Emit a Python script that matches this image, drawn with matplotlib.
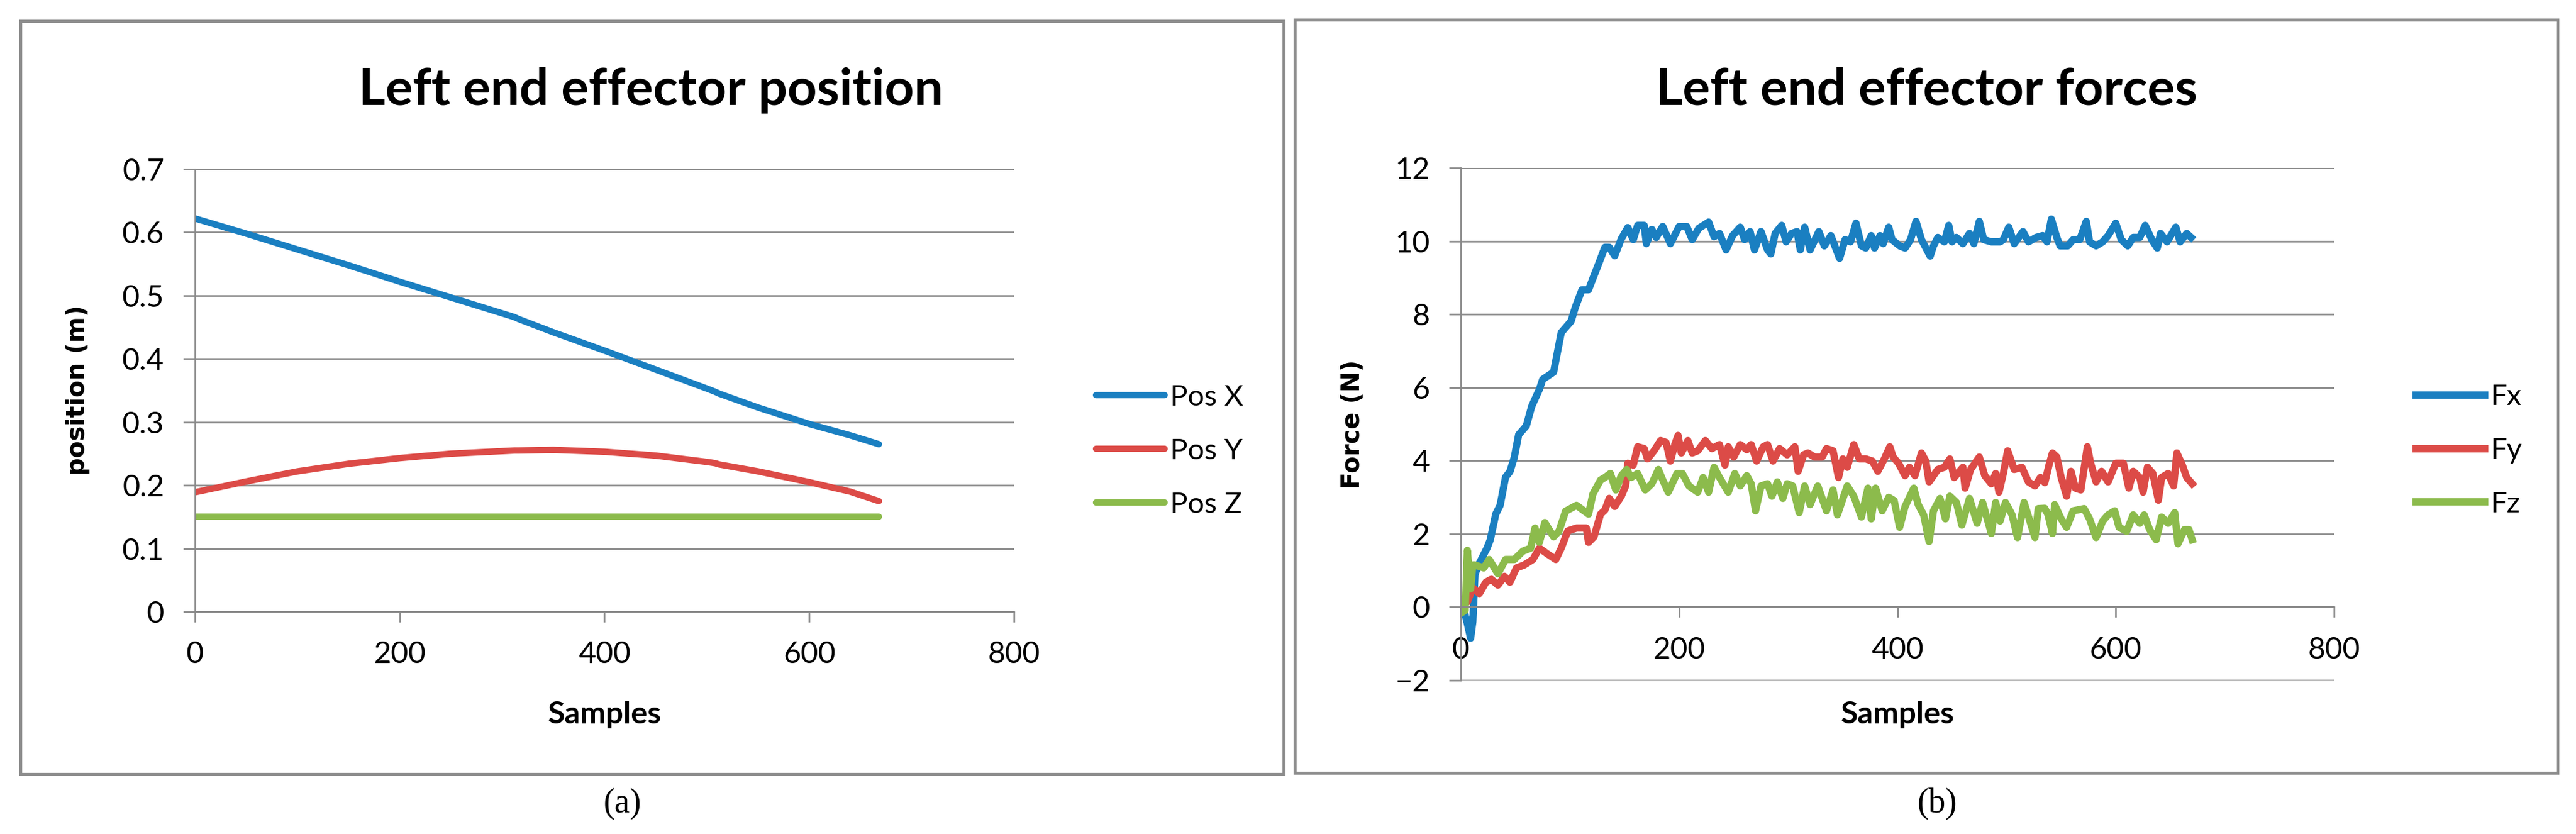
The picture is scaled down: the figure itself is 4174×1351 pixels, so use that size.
import numpy as np
import matplotlib.pyplot as plt
from matplotlib.patches import Rectangle

plt.rcParams['font.family'] = ['Lato', 'DejaVu Sans']

# ---- data ----
pos_samples = [0, 50, 100, 150, 200, 250, 300, 312, 316, 350, 400, 450, 500, 508, 512, 550, 600, 640, 668]
pos_x = [0.622, 0.598, 0.573, 0.548, 0.522, 0.497, 0.472, 0.466, 0.463, 0.442, 0.413, 0.383,
         0.353, 0.348, 0.345, 0.323, 0.297, 0.279, 0.265]
pos_y = [0.189, 0.206, 0.222, 0.234, 0.243, 0.250, 0.254, 0.255, 0.255, 0.256, 0.253, 0.247,
         0.237, 0.235, 0.233, 0.222, 0.205, 0.190, 0.175]
pos_z = [0.15] * len(pos_samples)

fx_samples = [0, 3, 6, 9, 11, 13, 17, 24, 27, 32, 36, 41, 45, 49, 53, 60, 65, 72, 75, 85, 89, 92,
              101, 105, 111, 117, 121, 126, 132, 136, 141, 147, 153, 158, 162, 168, 170, 175, 179,
              185, 192, 200, 207, 212, 218, 227, 232, 237, 243, 249, 256, 260, 265, 269, 275, 281,
              284, 288, 294, 298, 303, 308, 311, 315, 320, 328, 333, 339, 347, 352, 357, 362, 367,
              371, 376, 379, 384, 387, 392, 395, 402, 407, 412, 417, 422, 430, 433, 437, 443, 447,
              450, 454, 460, 466, 470, 475, 479, 486, 494, 497, 502, 507, 515, 520, 527, 533, 537,
              541, 546, 549, 556, 561, 567, 573, 576, 582, 588, 593, 600, 605, 611, 616, 622, 627,
              633, 638, 641, 647, 655, 659, 665, 669]
fx = [0.05, -0.1, -0.45, -0.85, -0.4, 0.9, 1.2, 1.61, 1.84, 2.54, 2.78, 3.55, 3.7, 4.09, 4.71, 4.95,
      5.49, 5.95, 6.22, 6.42, 7.04, 7.5, 7.81, 8.2, 8.67, 8.67, 8.98, 9.36, 9.83, 9.83, 9.6, 10.06,
      10.37, 10.04, 10.43, 10.43, 9.93, 10.32, 10.1, 10.4, 9.93, 10.4, 10.4, 10.04, 10.35, 10.52,
      10.12, 10.21, 9.76, 10.15, 10.38, 10.04, 10.26, 9.76, 10.26, 9.76, 9.65, 10.21, 10.43, 9.98,
      10.21, 10.26, 9.76, 10.38, 9.76, 10.26, 9.87, 10.15, 9.53, 10.04, 9.98, 10.49, 9.87, 9.81,
      10.15, 9.81, 10.15, 9.93, 10.38, 10.04, 9.87, 9.81, 10.04, 10.54, 10.04, 9.59, 9.87, 10.1,
      9.98, 10.43, 9.98, 10.1, 9.93, 10.21, 9.93, 10.54, 10.04, 9.98, 9.98, 10.04, 10.38, 9.93,
      10.26, 9.98, 10.1, 10.15, 9.98, 10.6, 10.1, 9.87, 9.87, 10.04, 10.04, 10.54, 9.98, 9.87,
      9.98, 10.15, 10.49, 10.04, 9.87, 10.1, 10.1, 10.43, 10.04, 9.81, 10.21, 9.98, 10.38, 9.98,
      10.21, 10.1]

fy_samples = [0, 6, 11, 17, 23, 28, 34, 40, 45, 51, 58, 66, 72, 79, 87, 92, 98, 106, 115, 117, 122,
              128, 132, 136, 141, 147, 151, 153, 158, 162, 168, 171, 177, 183, 188, 192, 196, 199,
              202, 208, 212, 217, 224, 230, 237, 242, 245, 250, 256, 262, 266, 271, 277, 281, 286,
              292, 299, 306, 309, 314, 318, 324, 331, 335, 341, 346, 350, 354, 360, 365, 371, 377,
              382, 388, 393, 396, 401, 407, 411, 416, 422, 426, 429, 437, 443, 448, 452, 460, 462,
              467, 475, 480, 486, 490, 493, 497, 501, 507, 514, 520, 526, 531, 535, 539, 542, 546,
              550, 555, 559, 563, 568, 574, 577, 582, 587, 593, 600, 607, 612, 616, 622, 625, 629,
              634, 639, 642, 648, 653, 656, 661, 665, 670]
fy = [0.22, 0.14, 0.53, 0.37, 0.68, 0.76, 0.6, 0.84, 0.68, 1.07, 1.15, 1.3, 1.61, 1.46, 1.3, 1.61,
      2.08, 2.16, 2.16, 1.77, 1.92, 2.54, 2.65, 2.97, 2.75, 3.03, 3.31, 3.93, 3.88, 4.38, 4.33, 4.05,
      4.27, 4.55, 4.5, 3.99, 4.44, 4.69, 4.21, 4.55, 4.21, 4.27, 4.55, 4.33, 4.44, 3.88, 4.38, 4.1,
      4.44, 4.3, 4.44, 3.99, 4.38, 4.44, 3.99, 4.33, 4.16, 4.38, 3.71, 4.16, 4.21, 4.1, 4.1, 4.33,
      4.27, 3.54, 4.05, 3.82, 4.44, 4.05, 4.05, 3.99, 3.71, 4.05, 4.38, 4.1, 3.93, 3.59, 3.82, 3.59,
      4.21, 3.99, 3.42, 3.76, 3.82, 4.05, 3.54, 3.82, 3.25, 3.76, 4.1, 3.59, 3.37, 3.65, 3.14, 3.65,
      4.27, 3.76, 3.82, 3.42, 3.31, 3.54, 3.4, 3.9, 4.21, 4.1, 3.54, 3.03, 3.71, 3.25, 3.2, 4.38,
      3.93, 3.42, 3.71, 3.42, 3.93, 3.93, 3.25, 3.71, 3.54, 3.14, 3.82, 3.65, 2.92, 3.54, 3.65, 3.31,
      4.21, 3.88, 3.54, 3.37]

fz_samples = [0, 4, 6, 9, 11, 13, 21, 26, 34, 41, 49, 57, 64, 68, 72, 77, 85, 90, 96, 106, 117, 121,
              128, 132, 137, 142, 147, 152, 156, 162, 169, 175, 181, 184, 190, 198, 203, 209, 217,
              222, 227, 232, 237, 245, 251, 256, 262, 266, 270, 275, 281, 285, 290, 295, 299, 304,
              310, 315, 320, 327, 335, 341, 345, 354, 360, 367, 373, 376, 380, 386, 392, 397, 402,
              407, 415, 419, 424, 429, 433, 439, 444, 448, 454, 459, 466, 473, 478, 486, 490, 494,
              499, 505, 510, 516, 526, 529, 535, 538, 542, 544, 550, 555, 561, 571, 576, 582, 588,
              593, 599, 603, 610, 616, 622, 626, 631, 637, 642, 648, 654, 657, 663, 667, 670]
fz = [-0.17, -0.09, 1.55, 0.5, 1.15, 1.15, 1.07, 1.3, 0.91, 1.3, 1.3, 1.53, 1.61, 2.16, 1.77, 2.31,
      1.92, 2.08, 2.62, 2.78, 2.54, 3.09, 3.47, 3.54, 3.65, 3.2, 3.59, 3.76, 3.54, 3.65, 3.2, 3.37,
      3.76, 3.54, 3.14, 3.65, 3.65, 3.31, 3.14, 3.54, 3.14, 3.82, 3.54, 3.14, 3.65, 3.31, 3.59, 3.37,
      2.63, 3.31, 3.37, 3.03, 3.42, 2.97, 3.37, 3.31, 2.58, 3.31, 2.8, 3.31, 2.63, 3.2, 2.52, 3.31,
      3.03, 2.46, 3.25, 2.41, 3.25, 2.63, 3.0, 2.91, 2.18, 2.75, 3.25, 2.8, 2.52, 1.79, 2.63, 2.97,
      2.41, 3.03, 2.86, 2.24, 2.97, 2.29, 2.86, 2.01, 2.86, 2.35, 2.86, 2.52, 1.9, 2.86, 1.9, 2.69,
      2.7, 2.52, 2.01, 2.8, 2.41, 2.18, 2.63, 2.69, 2.41, 1.9, 2.35, 2.52, 2.63, 2.18, 2.07, 2.52,
      2.29, 2.52, 2.12, 1.84, 2.46, 2.29, 2.58, 1.73, 2.12, 2.12, 1.84]

x_ticks = [0, 200, 400, 600, 800]
pos_ticks = [0, 0.1, 0.2, 0.3, 0.4, 0.5, 0.6, 0.7]
pos_tick_labels = ['0', '0.1', '0.2', '0.3', '0.4', '0.5', '0.6', '0.7']
force_ticks = [-2, 0, 2, 4, 6, 8, 10, 12]

blue, red, green = '#1a7fc1', '#dc4b47', '#8cbb4c'
grid_c = '#898989'

W, H = 4174, 1351
fig = plt.figure(figsize=(W / 100, H / 100), dpi=100)


def add_ax(x0, y0, x1, y1):
    return fig.add_axes([x0 / W, 1 - y1 / H, (x1 - x0) / W, (y1 - y0) / H])


def style(ax):
    ax.spines['top'].set_visible(False)
    ax.spines['right'].set_visible(False)
    for s in ['left', 'bottom']:
        ax.spines[s].set_color(grid_c)
        ax.spines[s].set_linewidth(1.9)
    ax.yaxis.grid(True, color=grid_c, lw=1.9)
    ax.set_axisbelow(True)
    ax.tick_params(axis='y', length=14, width=1.9, color=grid_c, pad=22, labelsize=35)
    ax.tick_params(axis='x', length=12, width=1.9, color=grid_c, pad=22, labelsize=35)


# panel frames
for x0, y0, x1, y1 in [(33, 34, 2080, 1254), (2098, 32, 4144, 1252)]:
    fig.patches.append(Rectangle((x0 / W, 1 - y1 / H), (x1 - x0) / W, (y1 - y0) / H,
                                 transform=fig.transFigure, fill=False, ec='#8c8c8c', lw=3.5))

# (a) positions
ax1 = add_ax(316, 274, 1643, 991)
style(ax1)
ax1.plot(pos_samples, pos_x, color=blue, lw=7.5, label='Pos X', solid_capstyle='round')
ax1.plot(pos_samples, pos_y, color=red, lw=7.5, label='Pos Y', solid_capstyle='round')
ax1.plot(pos_samples, pos_z, color=green, lw=7.5, label='Pos Z', solid_capstyle='round')
ax1.set_xlim(0, 800)
ax1.set_ylim(0, 0.7)
ax1.set_xticks(x_ticks)
ax1.set_yticks(pos_ticks)
ax1.set_yticklabels(pos_tick_labels)
ax1.set_xlabel('Samples', fontsize=36, fontweight='bold')
ax1.xaxis.set_label_coords(0.5, -0.201)
ax1.set_ylabel('position (m)', fontsize=29, fontweight='bold', family='DejaVu Sans')
ax1.yaxis.set_label_coords(-0.128, 0.5)
ax1.legend(loc='center left', bbox_to_anchor=(1.10, 0.363), frameon=False, fontsize=34,
           handlelength=2.35, handletextpad=0.2, labelspacing=0.95, borderpad=0, borderaxespad=0)

# (b) forces
ax2 = add_ax(2367, 272, 3782, 1102)
style(ax2)
ax2.plot(fx_samples, fx, color=blue, lw=8.5, label='Fx')
ax2.plot(fy_samples, fy, color=red, lw=8.5, label='Fy')
ax2.plot(fz_samples, fz, color=green, lw=8.5, label='Fz')
ax2.set_xlim(0, 800)
ax2.set_ylim(-2, 12)
ax2.set_xticks(x_ticks)
ax2.set_yticks(force_ticks)
ax2.spines['bottom'].set_position(('data', 0))
ax2.set_xlabel('Samples', fontsize=36, fontweight='bold')
ax2.xaxis.set_label_coords(0.5, -0.04)
ax2.set_ylabel('Force (N)', fontsize=29, fontweight='bold', family='DejaVu Sans')
ax2.yaxis.set_label_coords(-0.1095, 0.5)
ax2.legend(loc='center left', bbox_to_anchor=(1.094, 0.448), frameon=False, fontsize=34,
           handlelength=2.35, handletextpad=0.2, labelspacing=0.95, borderpad=0, borderaxespad=0)

# titles and captions
fig.text(1055 / W, 1 - 170 / H, 'Left end effector position', ha='center', va='baseline',
         fontsize=60, fontweight='bold')
fig.text(3122 / W, 1 - 170 / H, 'Left end effector forces', ha='center', va='baseline',
         fontsize=60, fontweight='bold')
fig.text(1008 / W, 1 - 1302 / H, '(a)', ha='center', va='center', fontsize=40, family='Liberation Serif')
fig.text(3139 / W, 1 - 1302 / H, '(b)', ha='center', va='center', fontsize=40, family='Liberation Serif')

fig.savefig('out.png', dpi=100, facecolor='white')
